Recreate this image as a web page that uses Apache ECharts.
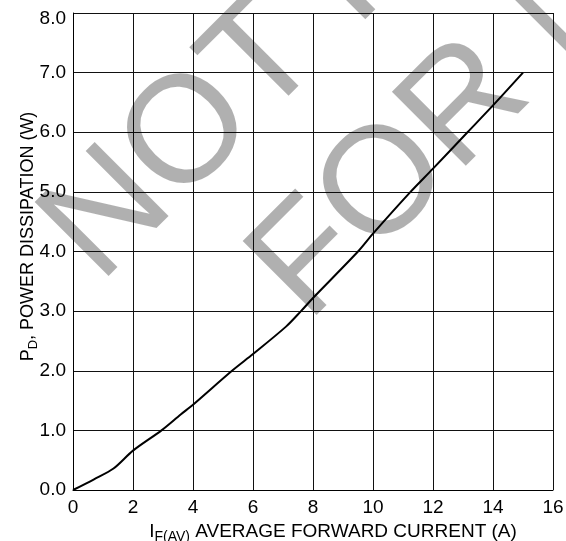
<!DOCTYPE html>
<html>
<head>
<meta charset="utf-8">
<script src="https://cdn.jsdelivr.net/npm/echarts@6/dist/echarts.min.js"></script>
<style>
html,body{margin:0;padding:0;background:#fff;}
#chart{width:566px;height:541px;}
</style>
</head>
<body>
<div id="chart"></div>
<script>
// Data
var currentA = [0, 0.7, 1.35, 2, 2.95, 3.6, 4, 5.3, 6, 7.1, 7.6, 8, 9.5, 10, 11.25, 12, 13.15, 14, 15];
var powerW   = [0, 0.18, 0.36, 0.66, 1.0, 1.27, 1.43, 2.0, 2.28, 2.74, 3.0, 3.22, 4.0, 4.3, 5.0, 5.39, 6.0, 6.45, 7.0];
var xTicks = [0, 2, 4, 6, 8, 10, 12, 14, 16];
var yTicks = [0.0, 1.0, 2.0, 3.0, 4.0, 5.0, 6.0, 7.0, 8.0];
var watermarkLine1 = 'NOT RECOMMENDED';
var watermarkLine2 = 'FOR NEW DESIGN';

var FONT = 'Liberation Sans, Arial, Helvetica, sans-serif';
var chart = echarts.init(document.getElementById('chart'), null, {renderer: 'canvas'});
var pts = currentA.map(function (x, i) { return [x, powerW[i]]; });

var wmStyle = function (txt) {
  return {
    text: txt,
    fill: 'rgba(0,0,0,0.31)',
    font: 'normal 152px ' + FONT,
    textAlign: 'left',
    textVerticalAlign: 'middle'
  };
};

chart.setOption({
  animation: false,
  backgroundColor: '#fff',
  textStyle: {fontFamily: FONT},
  grid: {left: 73, right: 13, top: 13, bottom: 51, containLabel: false, outerBoundsMode: 'none'},
  xAxis: {
    type: 'value',
    min: xTicks[0], max: xTicks[xTicks.length - 1], interval: 2,
    axisLine: {show: true, lineStyle: {color: '#000', width: 1}},
    axisTick: {show: false},
    splitLine: {show: true, lineStyle: {color: '#111', width: 1}},
    axisLabel: {color: '#000', fontSize: 19, fontFamily: FONT, margin: 8},
    name: '{p|I}{s|F(AV)}{m| AVERAGE FORWARD CURRENT (A)}',
    nameLocation: 'middle',
    nameGap: 30,
    nameMoveOverlap: false,
    nameTextStyle: {
      color: '#000', fontFamily: FONT,
      rich: {
        p: {fontSize: 19, color: '#000', fontFamily: FONT, padding: [0, 0, 0, 40]},
        m: {fontSize: 19, color: '#000', fontFamily: FONT},
        s: {fontSize: 14, color: '#000', fontFamily: FONT, padding: [10, 0, 0, 0]}
      }
    }
  },
  yAxis: {
    type: 'value',
    min: yTicks[0], max: yTicks[yTicks.length - 1], interval: 1,
    axisLine: {show: true, lineStyle: {color: '#000', width: 1}},
    axisTick: {show: false},
    splitLine: {show: true, lineStyle: {color: '#111', width: 1}},
    axisLabel: {color: '#000', fontSize: 19, fontFamily: FONT, margin: 7,
      formatter: function (v) {
        return v === yTicks[yTicks.length - 1] ? '{t|' + v.toFixed(1) + '}' : v.toFixed(1);
      },
      rich: {t: {fontSize: 19, color: '#000', fontFamily: FONT, padding: [12, 0, 0, 0]}}
    },
    name: '{p|P}{s|D}{m|, POWER DISSIPATION (W)}',
    nameLocation: 'middle',
    nameGap: 33,
    nameMoveOverlap: false,
    nameTextStyle: {
      color: '#000', fontFamily: FONT,
      rich: {
        p: {fontSize: 18, color: '#000', fontFamily: FONT, padding: [0, 0, 0, 30]},
        m: {fontSize: 18, color: '#000', fontFamily: FONT},
        s: {fontSize: 13, color: '#000', fontFamily: FONT, padding: [10, 0, 0, 0]}
      }
    }
  },
  series: [{
    type: 'line',
    data: pts,
    showSymbol: false,
    smooth: 0.3,
    lineStyle: {color: '#000', width: 2},
    z: 3
  }],
  graphic: [
    {type: 'text', x: 70, y: 255, rotation: Math.PI / 4, z: 100, silent: true, style: wmStyle(watermarkLine1)},
    {type: 'text', x: 278, y: 294, rotation: Math.PI / 4, z: 100, silent: true, style: wmStyle(watermarkLine2)}
  ]
});
</script>
</body>
</html>
